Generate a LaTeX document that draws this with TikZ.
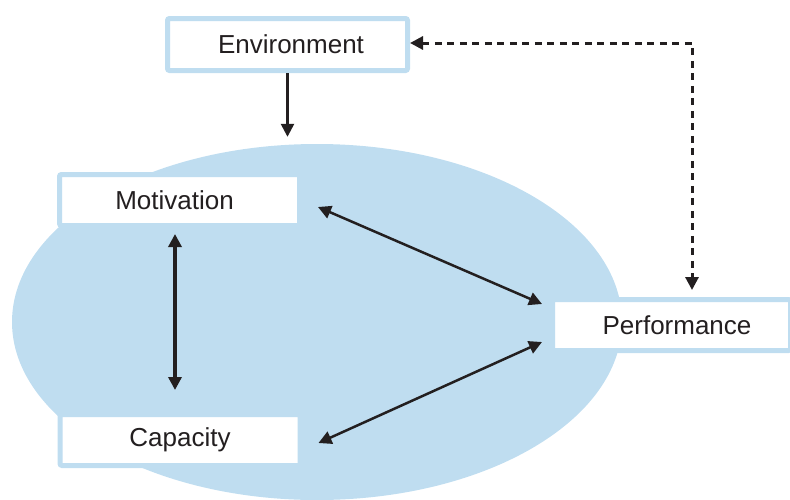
\documentclass[tikz,border=0pt]{standalone}
\usepackage{fontspec}
\setmainfont{Liberation Sans}
\usetikzlibrary{shapes.geometric,arrows.meta}
\definecolor{lblue}{RGB}{191,221,240}
\definecolor{ink}{RGB}{35,31,32}
\tikzset{
  box/.style={draw=lblue, line width=5pt, fill=white, rounded corners=2pt,
    minimum width=240pt, minimum height=51pt, inner sep=0pt,
    font=\fontsize{26}{30}\selectfont, text=ink},
  conn/.style={draw=ink, line width=2.5pt, -{Triangle[length=13pt,width=13pt]}},
  dconn/.style={draw=ink, line width=2.5pt, {Triangle[length=13pt,width=13pt]}-{Triangle[length=13pt,width=13pt]}},
}
\begin{document}
\begin{tikzpicture}[x=1pt,y=-1pt]
\useasboundingbox (0,0) rectangle (790,499);
\clip (0,0) rectangle (790,499);
\node[ellipse, fill=lblue, draw=none, minimum width=610pt, minimum height=356pt, inner sep=0pt] (ell) at (317,322) {};
\node[box, minimum height=52pt] (env) at (287.5,44.5) {\hspace*{7pt}Environment};
\node[box] (mot) at (179.5,200) {\hspace*{-10pt}Motivation};
\node[box] (cap) at (180,440) {Capacity};
\node[box, minimum width=238pt] (perf) at (671.5,325) {\hspace*{11pt}Performance};
% connectors
\draw[conn, shorten >=7pt] (env.south) -- (env.south |- ell.north);
\draw[dconn, line width=3.5pt] ([xshift=-4.5pt,yshift=-6pt]mot.south) -- ([xshift=-5pt,yshift=22pt]cap.north);
\draw[dconn] ([xshift=16pt,yshift=-7pt]mot.east) -- ([xshift=-8pt,yshift=21pt]perf.west);
\draw[dconn] ([xshift=16pt,yshift=-3pt]cap.east) -- ([xshift=-8pt,yshift=-17pt]perf.west);
\draw[dconn, line width=3pt, dash pattern=on 7pt off 5.5pt] ([yshift=1.5pt]env.east) -| ([xshift=20.5pt,yshift=7pt]perf.north);
\end{tikzpicture}
\end{document}
